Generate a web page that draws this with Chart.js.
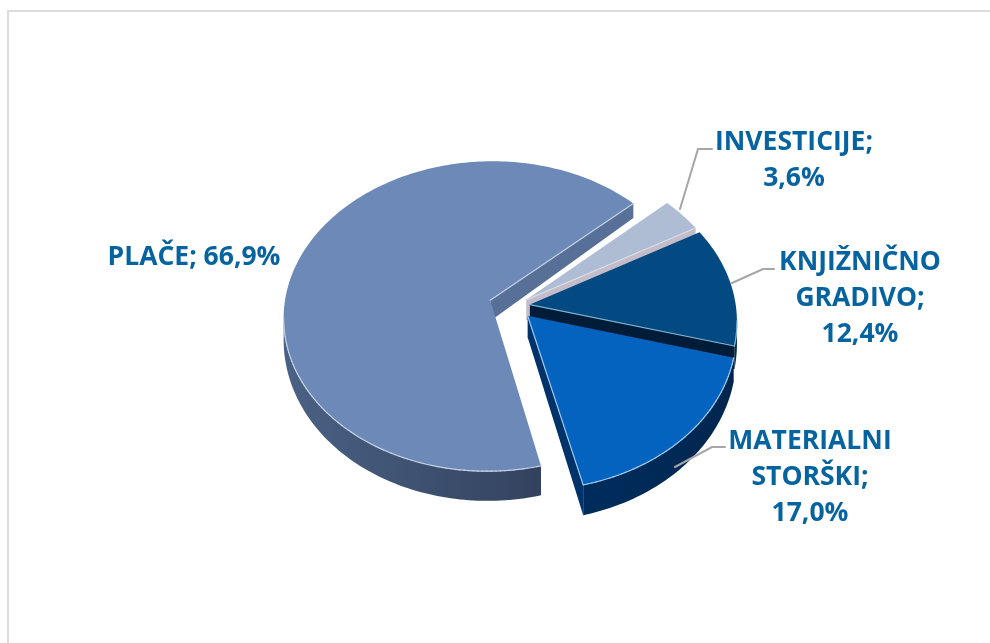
<!DOCTYPE html>
<html>
<head>
<meta charset="utf-8">
<style>
html,body{margin:0;padding:0;background:#fff;overflow:hidden}
#wrap{position:relative;width:990px;height:643px}
#frame{position:absolute;left:7px;top:10px;right:0;bottom:0;border-left:2px solid #dcdcdc;border-top:2px solid #dcdcdc}
canvas{position:absolute;left:0;top:0}
</style>
<script src="https://cdn.jsdelivr.net/npm/chart.js@4"></script>
</head>
<body>
<div id="wrap"><div id="frame"></div><canvas id="c" width="990" height="643"></canvas></div>
<script>
const categories = ['INVESTICIJE', 'KNJIŽNIČNO GRADIVO', 'MATERIALNI STORŠKI', 'PLAČE'];
const values = [3.6, 12.4, 17.0, 66.9];
const topColors = ['#aebdd3', '#034a83', '#0563c0', '#6c89b7'];
const cutColors = ['#c4bcc8', '#011c38', '#00336a', '#586f97'];
const sideColors = [['#8f9db3', '#8f9db3'], ['#01294f', '#01294f'], ['#002f62', '#00264f'], ['#4a6285', '#2b3650']];
const edgeColors = ['#d8dce6', '#7fb0cf', '#9cc8ee', '#c3d0e2'];
const offsets = [14, 15, 18, 26];
const labelLines = [['INVESTICIJE;', '3,6%'], ['KNJIŽNIČNO', 'GRADIVO;', '12,4%'], ['MATERIALNI', 'STORŠKI;', '17,0%'], ['PLAČE; 66,9%']];

const TILT = 0.75, PERSP = 0.103;

const labelLayout = [
  {x: 794, y: 142, line: [[680, 209], [698, 149], [712, 149]]},
  {x: 860, y: 262, line: [[732, 283], [763, 269], [774, 269]]},
  {x: 810, y: 441, line: [[675, 467], [712, 447], [725, 447]]},
  {x: 194, y: 257, line: null}
];

function outline(arc) {
  const p = arc.getProps(['x', 'y', 'startAngle', 'endAngle', 'outerRadius'], true);
  const off = arc.options.offset || 0, R = p.outerRadius;
  const mid = (p.startAngle + p.endAngle) / 2;
  const ox = off * Math.cos(mid), oy = off * Math.sin(mid);
  const project = (u, v) => {
    const a = (u + ox) / R, b = (v + oy) / R, w = 1 - PERSP * b;
    return {x: p.x + R * a / w, y: p.y + R * TILT * b / w, d: 21 + 9 * b};
  };
  const pts = [project(0, 0)];
  const n = Math.max(8, Math.ceil((p.endAngle - p.startAngle) / 0.02));
  for (let i = 0; i <= n; i++) {
    const t = p.startAngle + (p.endAngle - p.startAngle) * i / n;
    pts.push(project(R * Math.cos(t), R * Math.sin(t)));
  }
  return pts;
}

function band(ctx, run, fill) {
  ctx.beginPath();
  run.forEach((q, k) => k ? ctx.lineTo(q.x, q.y) : ctx.moveTo(q.x, q.y));
  for (let k = run.length - 1; k >= 0; k--) ctx.lineTo(run[k].x, run[k].y + run[k].d);
  ctx.closePath();
  ctx.fillStyle = fill;
  ctx.fill();
}

const pie3d = {
  id: 'pie3d',
  beforeDatasetsDraw(chart) {
    const ctx = chart.ctx;
    const arcs = chart.getDatasetMeta(0).data;
    arcs.forEach((arc, i) => {
      const pts = outline(arc);
      const n = pts.length;
      const xs = pts.map(q => q.x);
      const g = ctx.createLinearGradient(Math.min(...xs), 0, Math.max(...xs), 0);
      g.addColorStop(0, sideColors[i][0]);
      g.addColorStop(1, sideColors[i][1]);
      // curved outer wall: one continuous band over the part of the arc facing the viewer
      let run = [];
      for (let k = 1; k < n - 1; k++) {
        const a = pts[k], b = pts[k + 1];
        if (b.x < a.x) { if (!run.length) run.push(a); run.push(b); }
      }
      if (run.length) band(ctx, run, g);
      // flat cut faces
      [[pts[0], pts[1]], [pts[n - 1], pts[0]]].forEach(([a, b]) => {
        if (b.x < a.x) band(ctx, [a, b], cutColors[i]);
      });
      ctx.beginPath();
      pts.forEach((q, k) => k ? ctx.lineTo(q.x, q.y) : ctx.moveTo(q.x, q.y));
      ctx.closePath();
      ctx.fillStyle = topColors[i];
      ctx.fill();
      // light bevel along the edges that have a visible side below them
      ctx.strokeStyle = edgeColors[i];
      ctx.lineWidth = 1.2;
      ctx.lineCap = 'round';
      for (let k = 0; k < n; k++) {
        const a = pts[k], b = pts[(k + 1) % n];
        if (b.x >= a.x) continue;
        ctx.beginPath();
        ctx.moveTo(a.x, a.y);
        ctx.lineTo(b.x, b.y);
        ctx.stroke();
      }
    });
    return false;
  },
  afterDraw(chart) {
    const ctx = chart.ctx;
    ctx.save();
    labelLayout.forEach((l, i) => {
      if (l.line) {
        ctx.beginPath();
        l.line.forEach((q, k) => k ? ctx.lineTo(q[0], q[1]) : ctx.moveTo(q[0], q[1]));
        ctx.strokeStyle = '#a6a6a6';
        ctx.lineWidth = 2;
        ctx.stroke();
      }
      ctx.font = '700 26.5px "Open Sans"';
      ctx.fillStyle = '#05639f';
      ctx.textAlign = 'center';
      ctx.textBaseline = 'middle';
      labelLines[i].forEach((t, k) => ctx.fillText(t, l.x, l.y + k * 36));
    });
    ctx.restore();
  }
};

new Chart(document.getElementById('c'), {
  type: 'pie',
  data: {
    labels: categories,
    datasets: [{data: values, backgroundColor: topColors, offset: offsets, borderWidth: 0}]
  },
  options: {
    responsive: false,
    animation: false,
    rotation: 47.5,
    layout: {padding: {left: 40, right: 0, top: 87, bottom: 118}},
    plugins: {legend: {display: false}, title: {display: false}, tooltip: {enabled: false}}
  },
  plugins: [pie3d]
});
</script>
</body>
</html>
